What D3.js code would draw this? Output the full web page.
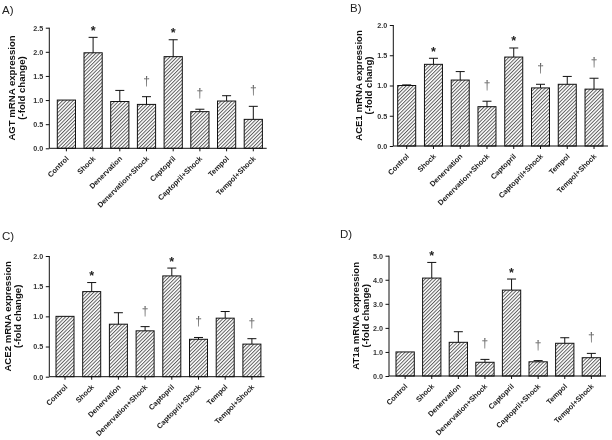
<!DOCTYPE html>
<html><head><meta charset="utf-8">
<script src="https://cdn.jsdelivr.net/npm/d3@7"></script>
<style>
html,body{margin:0;padding:0;background:#fff;}
svg{display:block;will-change:transform;}
text{font-family:Arial,"Liberation Sans",sans-serif;}
</style></head>
<body>
<svg id="chart" width="612" height="440"></svg>
<script>
const categories = ["Control","Shock","Denervation","Denervation+Shock","Captopril","Captopril+Shock","Tempol","Tempol+Shock"];
const marks = ["", "*", "", "\u2020", "*", "\u2020", "", "\u2020"];

const agtMean = [1.00, 1.98, 0.97, 0.91, 1.90, 0.76, 0.98, 0.60];
const agtSem  = [0.00, 0.32, 0.23, 0.16, 0.35, 0.05, 0.11, 0.27];
const agtTicks = [0, 0.5, 1.0, 1.5, 2.0, 2.5];

const ace1Mean = [1.00, 1.35, 1.09, 0.65, 1.47, 0.96, 1.02, 0.94];
const ace1Sem  = [0.01, 0.10, 0.14, 0.09, 0.15, 0.06, 0.13, 0.18];
const ace1Ticks = [0, 0.5, 1.0, 1.5, 2.0];

const ace2Mean = [1.00, 1.41, 0.87, 0.76, 1.67, 0.62, 0.97, 0.54];
const ace2Sem  = [0.00, 0.15, 0.19, 0.07, 0.13, 0.03, 0.11, 0.09];
const ace2Ticks = [0, 0.5, 1.0, 1.5, 2.0];

const at1Mean = [1.00, 4.07, 1.40, 0.57, 3.57, 0.59, 1.36, 0.76];
const at1Sem  = [0.00, 0.65, 0.44, 0.12, 0.46, 0.05, 0.23, 0.18];
const at1Ticks = [0, 1, 2, 3, 4, 5];

const svg = d3.select("#chart");
const defs = svg.append("defs");
const pat = defs.append("pattern").attr("id","hatch")
  .attr("patternUnits","userSpaceOnUse").attr("width",2.5).attr("height",2.5)
  .attr("patternTransform","rotate(45)");
pat.append("rect").attr("width",2.5).attr("height",2.5).attr("fill","#fff");
pat.append("line").attr("x1",0.5).attr("y1",0).attr("x2",0.5).attr("y2",2.5)
  .attr("stroke","#505050").attr("stroke-width",0.9);

function panel(cfg) {
  const g = svg.append("g");
  const n = categories.length;
  const p = (cfg.step - cfg.bw) / cfg.step;
  const start = cfg.first - (cfg.step - cfg.bw) / 2;
  const x = d3.scaleBand().domain(categories)
    .range([start, start + n * cfg.step]).paddingInner(p).paddingOuter(p / 2);
  const y = d3.scaleLinear().domain([0, cfg.ticks[cfg.ticks.length - 1]])
    .range([cfg.y0, cfg.yTop]);

  g.append("text").attr("x", cfg.lx).attr("y", cfg.ly)
    .attr("font-size", 11.5).attr("fill", "#222").text(cfg.label);

  g.selectAll("rect.bar").data(categories).enter().append("rect")
    .attr("x", d => x(d)).attr("width", x.bandwidth())
    .attr("y", (d, i) => y(cfg.mean[i]))
    .attr("height", (d, i) => cfg.y0 - y(cfg.mean[i]))
    .attr("fill", "url(#hatch)").attr("stroke", "#111").attr("stroke-width", 1);

  categories.forEach((c, i) => {
    if (cfg.sem[i] <= 0) return;
    const cx = x(c) + x.bandwidth() / 2;
    const top = y(cfg.mean[i] + cfg.sem[i]);
    g.append("line").attr("x1", cx).attr("x2", cx)
      .attr("y1", y(cfg.mean[i])).attr("y2", top)
      .attr("stroke", "#111").attr("stroke-width", 1);
    g.append("line").attr("x1", cx - 4.5).attr("x2", cx + 4.5)
      .attr("y1", top).attr("y2", top)
      .attr("stroke", "#111").attr("stroke-width", 1);
  });

  categories.forEach((c, i) => {
    const m = marks[i];
    if (!m) return;
    const cx = x(c) + x.bandwidth() / 2;
    const top = y(cfg.mean[i] + cfg.sem[i]);
    if (m === "*") {
      g.append("text").attr("x", cx).attr("y", top - 2.5)
        .attr("text-anchor", "middle").attr("font-size", 12.5)
        .attr("font-weight", "bold").attr("fill", "#222").text(m);
    } else {
      g.append("text").attr("x", cx).attr("y", top - 12)
        .attr("text-anchor", "middle").attr("font-size", 12)
        .attr("fill", "#666").text(m);
    }
  });

  const ya = g.append("g").attr("transform", `translate(${cfg.ax},0)`)
    .call(d3.axisLeft(y).tickValues(cfg.ticks).tickFormat(d3.format(".1f"))
      .tickSize(3.5).tickPadding(2.5));
  ya.select(".domain").attr("d", `M-0,${cfg.y0}V${cfg.yTop}`).attr("stroke", "#111");
  ya.selectAll(".tick line").attr("stroke", "#111");
  ya.selectAll("text").attr("font-size", 7.2).attr("font-weight", "bold")
    .attr("fill", "#333").attr("font-family", "Arial,'Liberation Sans',sans-serif");

  const xa = g.append("g").attr("transform", `translate(0,${cfg.y0})`)
    .call(d3.axisBottom(x).tickSize(3).tickFormat(""));
  xa.select(".domain").attr("d", `M${cfg.ax},0H${cfg.axEnd}`).attr("stroke", "#111");
  xa.selectAll(".tick line").attr("stroke", "#111");
  g.selectAll("text.xl").data(categories).enter().append("text")
    .attr("class", "xl")
    .attr("transform", d => `translate(${x(d) + x.bandwidth() / 2 + 1},${cfg.y0 + 9}) rotate(-45)`)
    .attr("text-anchor", "end").attr("dy", "0.35em")
    .attr("font-size", 7.4).attr("font-weight", "bold").attr("fill", "#222")
    .text(d => d);

  const cy = (cfg.y0 + cfg.yTop) / 2;
  cfg.title.forEach((t, k) => {
    g.append("text")
      .attr("transform", `translate(${cfg.tx[k]},${cy}) rotate(-90)`)
      .attr("text-anchor", "middle").attr("dy", "0.35em")
      .attr("font-size", 9.6).attr("font-weight", "bold").attr("fill", "#111")
      .text(t);
  });
}

panel({label:"A)", lx:2, ly:13.5, mean:agtMean, sem:agtSem, ticks:agtTicks,
  ax:49.3, y0:148.3, yTop:27.7, first:57.3, step:26.7, bw:18.2, axEnd:266.7,
  title:["AGT mRNA expression","(-fold change)"], tx:[11.5, 22]});
panel({label:"B)", lx:350, ly:12, mean:ace1Mean, sem:ace1Sem, ticks:ace1Ticks,
  ax:393.3, y0:146, yTop:25, first:397.7, step:26.76, bw:18, axEnd:608,
  title:["ACE1 mRNA expression","(-fold chang)"], tx:[358.5, 368.5]});
panel({label:"C)", lx:2, ly:239.5, mean:ace2Mean, sem:ace2Sem, ticks:ace2Ticks,
  ax:49.3, y0:376.7, yTop:256, first:56, step:26.7, bw:18, axEnd:264.5,
  title:["ACE2 mRNA expression","(-fold change)"], tx:[8, 18]});
panel({label:"D)", lx:340, ly:238, mean:at1Mean, sem:at1Sem, ticks:at1Ticks,
  ax:389, y0:376, yTop:255.7, first:396, step:26.6, bw:18.3, axEnd:606,
  title:["AT1a mRNA expression","(-fold change)"], tx:[356, 366]});
</script>
</body></html>
